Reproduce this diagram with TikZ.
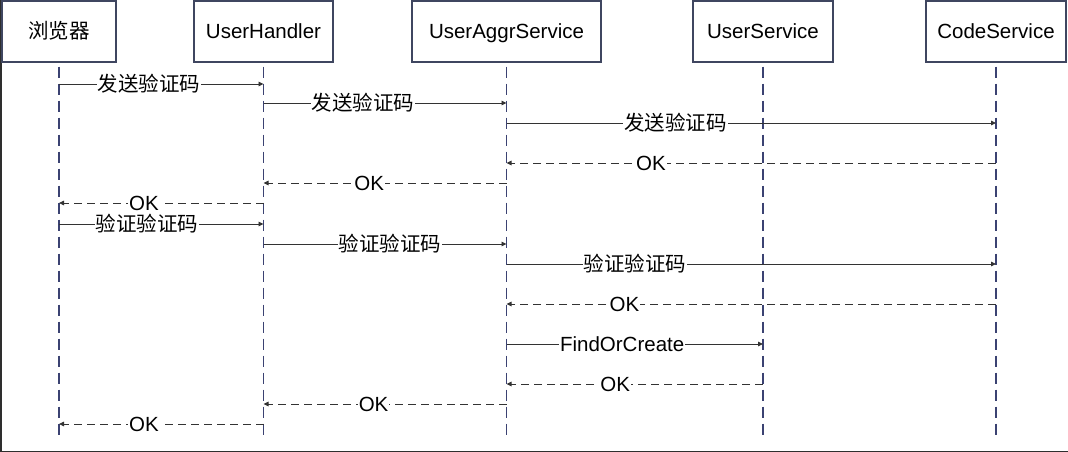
\documentclass[tikz,border=0pt]{standalone}
\usepackage{fontspec}
\setmainfont{Liberation Sans}
\newfontfamily\cjk{Noto Sans CJK SC}
\usetikzlibrary{arrows.meta}
\definecolor{boxline}{HTML}{3F4660}
\definecolor{lifeline}{HTML}{3B4272}
\definecolor{msgline}{HTML}{333333}
\definecolor{frameline}{HTML}{2E2E2E}

\begin{document}
\begin{tikzpicture}[x=1pt,y=-1pt,
  party/.style={draw=boxline, line width=1.1pt, minimum height=61pt, inner sep=0pt,
                text height=18pt, text depth=3pt, font=\fontsize{20.5}{24}\selectfont},
  life/.style={draw=lifeline, line width=1.2pt, dash pattern=on 11pt off 6pt, shorten <=4pt},
  call/.style={draw=msgline, line width=0.9pt, -{Triangle[length=5pt,width=4.5pt]}},
  reply/.style={call, dash pattern=on 8pt off 5pt},
  lbl/.style={fill=white, inner sep=1pt, text=black, font=\fontsize{20.5}{24}\selectfont}]
  \useasboundingbox (0,0) rectangle (1068,452);
  % outer frame, only left and bottom edges show
  \draw[frameline, line width=1.5pt] (0.75,0) -- (0.75,451.25) -- (1068,451.25);

  % participants
  \node[party, minimum width=114pt] (browser) at (59,31.5)    {\cjk 浏览器};
  \node[party, minimum width=139pt] (handler) at (263.5,31.5) {UserHandler};
  \node[party, minimum width=189pt] (aggr)    at (506.5,31.5) {UserAggrService};
  \node[party, minimum width=140pt] (usersvc) at (763,31.5)   {UserService};
  \node[party, minimum width=140pt] (codesvc) at (996,31.5)   {CodeService};

  % lifelines
  \foreach \p in {browser,handler,aggr,usersvc,codesvc} {
    \coordinate (\p-end) at (\p |- 0,436);
    \draw[life] (\p.south) -- (\p-end);
  }

  % send code
  \draw[call] (browser |- 0,84) -- node[lbl, pos=.44] {\cjk 发送验证码} (handler |- 0,84);
  \draw[call] (handler |- 0,103) -- node[lbl, pos=.41] {\cjk 发送验证码} (aggr |- 0,103);
  \draw[call] (aggr |- 0,123) -- node[lbl, pos=.345] {\cjk 发送验证码} (codesvc |- 0,123);
  \draw[reply] (codesvc |- 0,163) -- node[lbl, pos=.705] {OK} (aggr |- 0,163);
  \draw[reply] (aggr |- 0,183) -- node[lbl, pos=.565] {OK} (handler |- 0,183);
  \draw[reply] (handler |- 0,203) -- node[lbl, pos=.585] {OK} (browser |- 0,203);

  % verify code
  \draw[call] (browser |- 0,224) -- node[lbl, pos=.43] {\cjk 验证验证码} (handler |- 0,224);
  \draw[call] (handler |- 0,244) -- node[lbl, pos=.52] {\cjk 验证验证码} (aggr |- 0,244);
  \draw[call] (aggr |- 0,264) -- node[lbl, pos=.262] {\cjk 验证验证码} (codesvc |- 0,264);
  \draw[reply] (codesvc |- 0,304) -- node[lbl, pos=.759] {OK} (aggr |- 0,304);
  \draw[call] (aggr |- 0,344) -- node[lbl, pos=.451] {FindOrCreate} (usersvc |- 0,344);
  \draw[reply] (usersvc |- 0,384) -- node[lbl, pos=.576] {OK} (aggr |- 0,384);
  \draw[reply] (aggr |- 0,404) -- node[lbl, pos=.547] {OK} (handler |- 0,404);
  \draw[reply] (handler |- 0,424) -- node[lbl, pos=.585] {OK} (browser |- 0,424);
\end{tikzpicture}
\end{document}
